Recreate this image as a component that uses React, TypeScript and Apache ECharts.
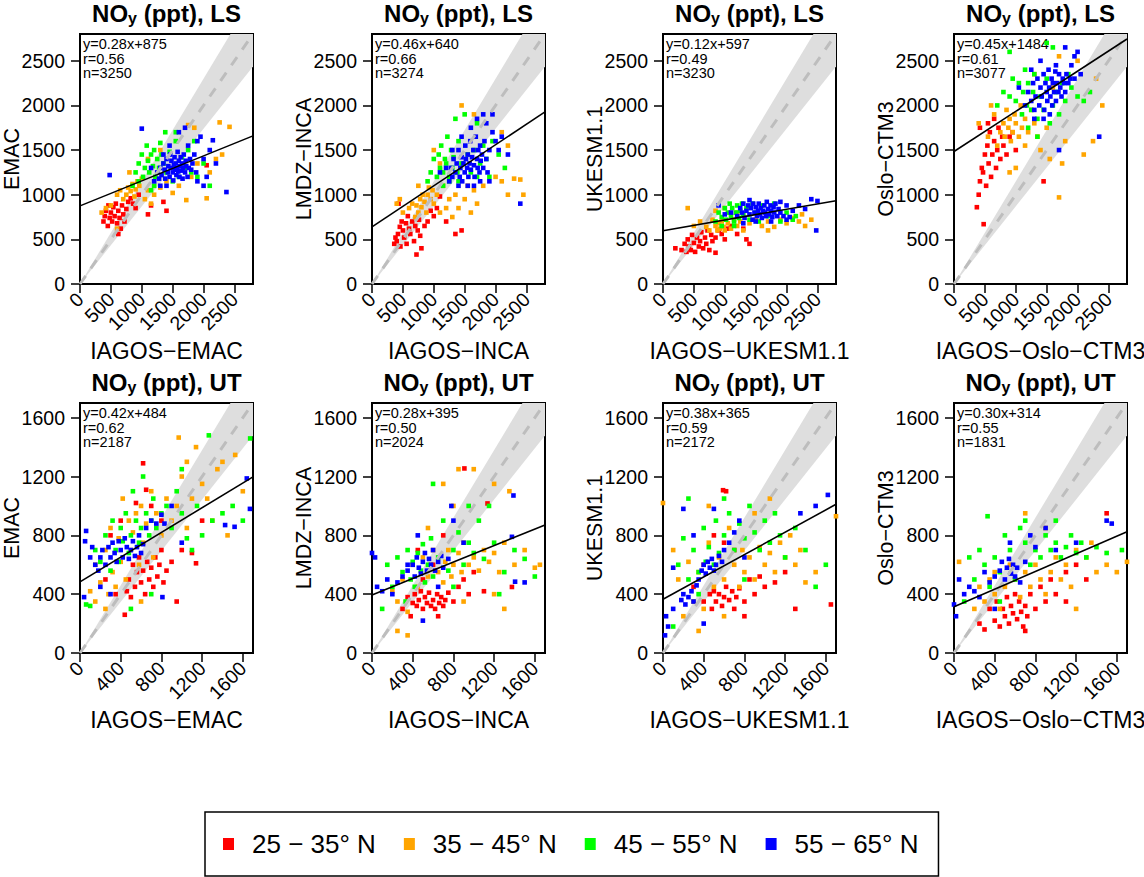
import React, { useEffect, useRef } from 'react';
import * as echarts from 'echarts';

// ---------- labels & statistics ----------
const LAT_BANDS = ['25 − 35° N', '35 − 45° N', '45 − 55° N', '55 − 65° N'];
const BAND_COLORS = ['#ff0000', '#ffa500', '#00ff00', '#0000ff'];
const MODEL_NAMES = ['EMAC', 'LMDZ−INCA', 'UKESM1.1', 'Oslo−CTM3'];
const X_NAMES = ['IAGOS−EMAC', 'IAGOS−INCA', 'IAGOS−UKESM1.1', 'IAGOS−Oslo−CTM3'];

const LS_SLOPE = [0.28, 0.46, 0.12, 0.45];
const LS_INTERCEPT = [875, 640, 597, 1484];
const LS_R = [0.56, 0.66, 0.49, 0.61];
const LS_N = [3250, 3274, 3230, 3077];
const UT_SLOPE = [0.42, 0.28, 0.38, 0.30];
const UT_INTERCEPT = [484, 395, 365, 314];
const UT_R = [0.62, 0.50, 0.59, 0.55];
const UT_N = [2187, 2024, 2172, 1831];

const LS_TICKS = [0, 500, 1000, 1500, 2000, 2500];
const UT_TICKS = [0, 400, 800, 1200, 1600];
const LS_MAX = 2800;
const UT_MAX = 1700;
const ONE_TO_ONE_FACTOR = 1.15;

// ---------- LS panel 1: EMAC ----------
const ls1Red = [[380,700],[400,760],[420,820],[450,650],[460,880],[480,740],[500,800],[520,700],[540,860],[560,760],[580,900],[600,680],[620,820],[640,740],[660,620],[680,880],[700,780],[720,700],[750,840],[780,920],[820,960],[860,900],[900,850],[950,1000],[1100,780],[1350,920],[1400,820],[2050,1330],[1150,880],[620,560]];
const ls1Orange = [[350,800],[420,850],[500,880],[600,1000],[650,1050],[700,950],[750,1000],[780,1080],[820,1040],[850,1120],[880,980],[900,1060],[930,1150],[960,1100],[1000,1180],[1050,950],[1100,1050],[1150,900],[1200,1000],[1300,1080],[1400,1150],[1500,1020],[1600,1100],[1720,940],[1800,1200],[1900,1350],[2050,960],[2100,1250],[2200,1400],[2260,1810],[2420,1760],[1750,1780],[1850,1750],[1300,1500],[1100,1400],[800,1250],[2300,1450],[600,620]];
const ls1Green = [[850,1100],[900,1250],[950,1350],[1000,1450],[1020,1200],[1050,1300],[1080,1550],[1100,1380],[1120,1250],[1150,1450],[1180,1320],[1200,1500],[1220,1200],[1250,1400],[1280,1300],[1300,1580],[1320,1450],[1350,1350],[1380,1700],[1400,1250],[1450,1480],[1500,1150],[1550,1600],[1600,1200],[1650,1420],[1700,1300],[1750,1500],[1800,1250],[1850,1600],[1900,1200],[2000,1350],[2100,1100],[1200,1100],[1150,1050],[950,1150],[1550,1700]];
const ls1Blue = [[1200,1150],[1250,1250],[1280,1180],[1300,1300],[1320,1220],[1350,1350],[1370,1280],[1380,1180],[1400,1400],[1420,1250],[1430,1320],[1450,1200],[1460,1450],[1470,1300],[1480,1380],[1500,1250],[1510,1160],[1520,1330],[1530,1420],[1540,1280],[1550,1350],[1560,1220],[1570,1300],[1580,1480],[1590,1260],[1600,1380],[1610,1200],[1620,1320],[1630,1420],[1640,1270],[1650,1350],[1660,1180],[1670,1300],[1680,1450],[1700,1250],[1710,1380],[1720,1320],[1740,1200],[1750,1550],[1760,1300],[1780,1400],[1800,1280],[1820,1350],[1850,1450],[1880,1250],[1900,1600],[1950,1650],[2000,1400],[2050,1200],[2100,1500],[2150,1610],[2200,1350],[2370,1030],[1000,1740],[480,1220],[1300,1100],[1400,1100],[1600,1700],[1700,1750],[1450,1550],[1150,1300],[1350,1450],[1900,1150],[2000,1100]];

// ---------- LS panel 2: LMDZ-INCA ----------
const ls2Red = [[360,450],[380,520],[400,480],[420,560],[450,640],[460,420],[480,700],[500,600],[520,520],[550,680],[560,450],[580,760],[600,620],[620,560],[650,700],[680,480],[700,650],[720,330],[740,600],[760,720],[780,540],[800,400],[850,650],[900,700],[950,820],[1000,760],[1050,850],[1200,700],[1350,560],[1450,600],[1100,980],[430,900]];
const ls2Orange = [[400,900],[450,950],[500,800],[600,850],[650,900],[700,750],[720,880],[750,800],[780,950],[800,860],[820,1000],[850,920],[880,800],[900,1000],[920,1080],[950,950],[980,1050],[1000,900],[1050,1000],[1100,800],[1150,1100],[1200,850],[1250,950],[1300,750],[1350,1000],[1400,850],[1500,950],[1550,1100],[1600,800],[1650,1050],[1700,900],[1800,1100],[2000,1200],[2100,1150],[2200,1000],[2300,1180],[2400,1170],[2450,1000],[1100,1350],[1000,1500],[1450,2000],[1650,1900],[2100,1700],[2200,1550],[750,1100]];
const ls2Green = [[900,1150],[950,1250],[1000,1400],[1050,1200],[1080,1450],[1100,1300],[1120,1550],[1150,1250],[1180,1400],[1200,1350],[1220,1650],[1250,1200],[1280,1500],[1300,1300],[1320,1420],[1350,1850],[1380,1250],[1400,1600],[1450,1350],[1500,1900],[1550,1450],[1600,1250],[1650,1500],[1700,1800],[1750,1350],[1800,1550],[1850,1400],[1900,1200],[1950,1600],[2050,1450],[2150,1300],[1250,1150],[1150,1100],[1400,1150],[1700,1200]];
const ls2Blue = [[1250,1150],[1280,1300],[1300,1200],[1320,1400],[1350,1250],[1370,1350],[1400,1500],[1420,1200],[1430,1300],[1450,1420],[1460,1150],[1480,1350],[1500,1250],[1510,1550],[1520,1400],[1540,1300],[1550,1450],[1560,1200],[1580,1350],[1590,1600],[1600,1280],[1620,1420],[1640,1500],[1650,1330],[1660,1200],[1680,1650],[1700,1400],[1710,1300],[1720,1500],[1740,1250],[1750,1550],[1760,1380],[1780,1450],[1800,1300],[1820,1600],[1850,1400],[1870,1250],[1900,1500],[1950,1700],[2000,1600],[2050,1500],[2100,1650],[1800,1900],[1950,1900],[1850,1800],[1600,1750],[1700,1850],[2400,900],[1400,1100],[1550,1100],[1300,1500],[1450,1650],[1650,1100],[1200,1300],[1900,1150],[1750,1150],[2200,1450],[1100,1250]];

// ---------- LS panel 3: UKESM1.1 ----------
const ls3Red = [[200,400],[300,380],[350,450],[380,360],[400,500],[420,420],[450,380],[470,550],[500,460],[520,360],[550,520],[580,420],[600,480],[620,580],[650,400],[680,520],[700,450],[720,600],[750,380],[780,550],[800,480],[850,520],[900,600],[950,560],[1000,500],[1050,620],[1100,650],[1200,560],[1350,500],[1400,450],[850,350],[1300,620]];
const ls3Orange = [[400,850],[600,700],[700,640],[750,600],[800,720],[850,650],[880,600],[900,680],[920,620],[950,700],[980,640],[1000,600],[1050,680],[1100,620],[1150,720],[1200,650],[1250,700],[1300,600],[1400,680],[1500,720],[1600,650],[1700,700],[1800,640],[1900,720],[2000,680],[2100,740],[2200,700],[2300,650],[2400,720],[1000,850],[850,820],[1200,800],[500,650],[2250,780],[1700,600]];
const ls3Green = [[850,700],[900,800],[950,750],[1000,850],[1020,720],[1050,800],[1080,900],[1100,760],[1120,850],[1150,700],[1180,800],[1200,880],[1230,740],[1250,820],[1280,900],[1300,780],[1350,850],[1400,720],[1450,900],[1500,800],[1550,700],[1600,880],[1700,760],[1800,900],[1900,700],[2000,800],[2100,720],[2150,760],[950,650],[1150,650]];
const ls3Blue = [[1200,760],[1250,850],[1280,800],[1300,900],[1320,740],[1350,820],[1380,880],[1400,780],[1420,850],[1450,720],[1460,900],[1480,800],[1500,860],[1520,760],[1540,820],[1550,900],[1570,780],[1580,850],[1600,740],[1620,820],[1640,880],[1650,800],[1670,760],[1680,920],[1700,840],[1720,780],[1740,880],[1750,820],[1770,750],[1790,860],[1800,800],[1820,900],[1850,760],[1870,840],[1900,800],[1950,760],[2000,880],[2050,750],[2100,820],[2200,880],[2300,840],[2400,950],[2500,930],[2480,600],[1300,680],[1500,700],[1750,700],[1900,920],[1400,940],[2000,720],[1100,800],[1000,780],[900,880]];

// ---------- LS panel 4: Oslo-CTM3 ----------
const ls4Red = [[370,860],[400,1000],[420,1150],[450,1300],[470,1250],[480,670],[500,1450],[520,1100],[540,1550],[560,1350],[580,1700],[600,1200],[620,1450],[650,1600],[680,1300],[700,1500],[720,1750],[750,1400],[780,1650],[800,1550],[850,1450],[900,1650],[950,1700],[1000,1500],[1450,1150],[550,1800],[650,1850],[420,1750]];
const ls4Orange = [[400,1800],[550,1650],[650,1900],[700,1550],[750,1700],[800,1800],[820,1650],[850,1950],[880,1750],[900,1850],[920,1600],[950,1700],[980,1900],[1000,1800],[1050,1650],[1080,2000],[1100,1750],[1150,1850],[1200,1700],[1250,1950],[1300,1800],[1350,1650],[1400,1500],[1500,1750],[1550,1400],[1700,970],[1750,1350],[1800,1600],[2100,1450],[2250,1600],[2400,2000],[2300,2300],[2000,2500],[1700,2550],[1300,2350],[1000,1300],[900,1250],[1150,1550],[600,2000],[1600,2200]];
const ls4Green = [[700,2000],[800,2150],[900,2100],[950,2300],[1000,2050],[1050,2250],[1100,1900],[1120,2150],[1150,2400],[1180,2000],[1200,2250],[1250,1950],[1280,2150],[1300,2350],[1350,1850],[1400,2100],[1450,1950],[1500,2300],[1550,1800],[1600,2000],[1650,2150],[1700,1900],[1750,2250],[1800,2050],[1850,2350],[1900,2200],[2000,2100],[2100,2050],[2200,2150],[1500,2700],[1600,2650],[1200,1750],[1350,1650],[900,2600]];
const ls4Blue = [[1150,2000],[1200,2150],[1250,2050],[1280,2250],[1300,1950],[1320,2100],[1350,2300],[1380,2000],[1400,2200],[1420,2100],[1450,2350],[1460,1950],[1480,2250],[1500,2150],[1510,2050],[1530,2400],[1540,2200],[1560,2100],[1580,2300],[1590,2000],[1600,2250],[1620,2150],[1640,2380],[1650,2050],[1670,2250],[1690,2150],[1700,2350],[1720,2200],[1740,2100],[1760,2300],[1780,2250],[1800,2150],[1820,2350],[1850,2250],[1880,2300],[1900,2450],[1950,2550],[2000,2600],[2050,2350],[1800,2650],[1400,2500],[1300,1850],[1450,1850],[2350,1650],[1700,1500],[1050,2200],[1250,2400],[1550,1900],[1650,2450],[1950,2300]];

// ---------- UT panel 1: EMAC ----------
const ut1Red = [[440,260],[460,420],[480,500],[500,380],[520,600],[540,450],[560,550],[580,650],[600,480],[620,560],[640,400],[660,620],[680,500],[700,580],[720,450],[740,650],[760,520],[780,600],[800,700],[820,480],[850,560],[900,620],[950,350],[1000,700],[1100,680],[1140,610],[620,1290],[650,1110],[550,1020],[400,900],[300,800],[250,500],[350,400],[700,1000],[800,900],[1200,900]];
const ut1Orange = [[100,420],[150,600],[200,480],[250,700],[280,400],[300,850],[320,550],[350,450],[380,780],[400,620],[420,1050],[450,500],[480,900],[500,700],[520,820],[550,950],[580,600],[600,1000],[620,750],[650,880],[700,1100],[720,650],[750,950],[800,800],[850,1050],[900,900],[950,1000],[970,1465],[1000,1200],[1050,850],[1100,1050],[1140,1400],[1200,1150],[1250,1050],[1300,900],[1350,1250],[1400,1300],[1450,800],[1525,1347],[1600,1100],[250,300],[150,350],[600,350],[1050,1300]];
const ut1Green = [[60,330],[100,320],[150,700],[200,620],[250,800],[300,560],[320,900],[350,700],[380,620],[400,850],[420,760],[450,950],[480,680],[500,800],[520,1100],[550,900],[580,750],[600,850],[620,1200],[650,950],[680,800],[700,900],[720,1050],[750,850],[800,950],[850,1000],[900,850],[950,1100],[1000,950],[1050,780],[1100,700],[1150,1000],[1200,800],[1266,1480],[1300,900],[1400,950],[1500,1000],[1672,1459],[700,400],[500,300],[1600,900],[1000,1250]];
const ut1Blue = [[40,380],[50,760],[60,830],[100,650],[120,720],[150,600],[180,560],[200,650],[220,700],[250,600],[280,720],[300,650],[320,750],[340,680],[360,620],[380,760],[400,700],[420,650],[440,780],[460,720],[480,640],[500,700],[520,760],[540,660],[560,720],[580,800],[600,680],[620,740],[650,850],[700,900],[750,880],[800,940],[830,880],[810,380],[1426,870],[1519,858],[1670,980],[1639,1187],[200,450],[300,400],[1000,750],[900,1000]];

// ---------- UT panel 2: LMDZ-INCA ----------
const ut2Red = [[300,300],[350,380],[400,340],[420,400],[440,320],[460,360],[480,420],[500,300],[520,380],[540,340],[560,410],[580,320],[600,360],[620,300],[640,400],[660,340],[680,380],[700,320],[720,360],[750,410],[800,350],[850,450],[900,500],[950,400],[1000,550],[1100,420],[500,500],[600,600],[450,700],[700,800],[908,1255],[1135,1017],[1375,449],[380,250],[650,250]];
const ut2Orange = [[200,420],[250,350],[300,500],[350,280],[400,600],[450,450],[500,650],[550,520],[600,700],[650,550],[700,480],[720,620],[750,700],[780,520],[800,600],[850,680],[880,550],[900,750],[950,600],[1000,650],[1050,560],[1100,700],[1150,620],[1200,680],[1250,550],[1300,750],[1400,600],[1500,700],[1600,580],[1650,600],[800,1000],[700,1150],[850,1250],[1000,1250],[1200,1150],[1350,1100],[550,850],[900,350],[1200,400],[1300,300],[250,150],[350,120]];
const ut2Green = [[100,300],[150,600],[200,450],[250,650],[300,550],[330,350],[350,700],[380,500],[400,620],[420,450],[450,680],[480,560],[500,740],[520,480],[550,600],[580,780],[600,520],[650,650],[700,900],[750,560],[800,700],[850,820],[900,600],[950,750],[1000,680],[1050,900],[1100,640],[1200,750],[1300,550],[1400,700],[1500,640],[1600,520],[950,1000],[1150,1000],[600,1150],[800,450],[1250,400]];
const ut2Blue = [[0,680],[30,650],[50,450],[100,420],[150,500],[200,400],[250,480],[300,520],[350,560],[400,600],[420,520],[440,650],[460,580],[480,540],[500,620],[520,680],[540,560],[560,640],[580,600],[600,700],[620,560],[650,620],[680,660],[700,580],[750,640],[780,1000],[800,900],[900,750],[1375,790],[1390,1071],[1406,485],[1500,480],[450,800],[500,220],[350,600],[650,450]];

// ---------- UT panel 3: UKESM1.1 ----------
const ut3Red = [[300,450],[400,350],[460,400],[480,300],[500,420],[520,350],[550,400],[580,320],[600,380],[620,450],[650,360],[680,420],[700,300],[720,380],[750,440],[800,350],[850,500],[900,400],[950,520],[1000,450],[1100,480],[1200,550],[1300,300],[590,1107],[620,1100],[500,800],[600,750],[700,700],[400,600],[800,250],[1650,330]];
const ut3Orange = [[0,1020],[100,700],[150,500],[200,250],[250,620],[300,350],[350,550],[400,300],[450,750],[500,450],[550,650],[600,500],[650,850],[700,600],[750,450],[780,700],[800,550],[850,650],[900,500],[950,720],[1000,600],[1050,680],[1100,550],[1150,750],[1200,650],[1250,800],[1300,600],[1350,700],[1400,480],[1500,550],[1700,930],[450,1000],[600,250],[900,950],[1050,1050],[350,150]];
const ut3Green = [[100,180],[150,600],[200,780],[250,500],[300,700],[350,550],[400,850],[420,620],[450,720],[500,600],[520,900],[550,680],[600,800],[650,950],[700,700],[750,880],[800,780],[850,1000],[900,820],[950,700],[1000,900],[1050,750],[1100,950],[1150,800],[1200,650],[1300,850],[1400,700],[1500,450],[1600,600],[250,1050],[600,1050],[800,500],[350,400]];
const ut3Blue = [[20,120],[30,250],[50,180],[100,300],[180,360],[200,400],[220,330],[250,380],[280,420],[300,350],[330,460],[350,500],[380,560],[400,600],[420,540],[440,620],[460,580],[480,640],[500,560],[520,600],[550,660],[580,620],[600,700],[650,750],[700,820],[750,900],[200,980],[1620,1075],[1500,1000],[1350,950],[100,580],[300,800],[800,650],[500,980],[400,200]];

// ---------- UT panel 4: Oslo-CTM3 ----------
const ut4Red = [[250,200],[300,160],[350,300],[400,220],[420,350],[450,180],[480,300],[500,250],[520,380],[540,200],[560,320],[580,270],[600,400],[620,230],[640,350],[660,280],[680,180],[700,320],[720,250],[750,400],[800,300],[850,450],[900,350],[950,500],[1000,400],[1100,550],[1200,600],[1300,500],[1500,950],[1100,350],[700,150]];
const ut4Orange = [[200,300],[250,450],[300,350],[350,500],[400,400],[450,300],[500,450],[550,600],[600,500],[650,380],[700,550],[750,450],[800,600],[850,500],[900,400],[950,550],[1000,650],[1050,500],[1100,600],[1150,450],[1200,700],[1300,650],[1400,550],[1500,600],[1600,550],[1700,620],[700,950],[900,850],[1200,300],[400,550],[50,620],[1350,750]];
const ut4Green = [[100,350],[150,650],[200,500],[250,700],[300,600],[330,930],[350,450],[400,650],[450,550],[500,800],[550,700],[600,500],[650,850],[700,750],[750,600],[800,700],[850,650],[900,800],[950,700],[1000,750],[1050,650],[1100,720],[1150,800],[1200,680],[1250,750],[1300,650],[1400,720],[1500,680],[1650,700],[700,900],[1000,900],[450,350]];
const ut4Blue = [[0,330],[20,250],[50,500],[100,400],[150,450],[200,420],[250,380],[300,550],[350,480],[400,520],[450,560],[470,620],[500,500],[520,580],[540,640],[560,540],[580,600],[600,520],[620,580],[650,480],[700,620],[750,800],[800,720],[900,850],[1000,700],[1200,750],[1500,900],[1550,880],[400,300],[550,750]];

const LS_POINTS = [
  [ls1Red, ls1Orange, ls1Green, ls1Blue],
  [ls2Red, ls2Orange, ls2Green, ls2Blue],
  [ls3Red, ls3Orange, ls3Green, ls3Blue],
  [ls4Red, ls4Orange, ls4Green, ls4Blue],
];
const UT_POINTS = [
  [ut1Red, ut1Orange, ut1Green, ut1Blue],
  [ut2Red, ut2Orange, ut2Green, ut2Blue],
  [ut3Red, ut3Orange, ut3Green, ut3Blue],
  [ut4Red, ut4Orange, ut4Green, ut4Blue],
];

const FONT = 'Liberation Sans, Arial, Helvetica, sans-serif';

function buildOption() {
  const colLeft = [80, 372, 663, 954];
  const rowTop = [34, 403];
  const W = 173;
  const H = 250;

  const grids: any[] = [];
  const xAxes: any[] = [];
  const yAxes: any[] = [];
  const series: any[] = [];
  const graphics: any[] = [];
  const plain = (v: number) => String(v);

  for (let p = 0; p < 8; p++) {
    const r = p < 4 ? 0 : 1;
    const c = p % 4;
    const isLS = r === 0;
    const max = isLS ? LS_MAX : UT_MAX;
    const ticks = isLS ? LS_TICKS : UT_TICKS;
    const slope = isLS ? LS_SLOPE[c] : UT_SLOPE[c];
    const icpt = isLS ? LS_INTERCEPT[c] : UT_INTERCEPT[c];
    const rr = isLS ? LS_R[c] : UT_R[c];
    const nn = isLS ? LS_N[c] : UT_N[c];
    const pts = isLS ? LS_POINTS[c] : UT_POINTS[c];
    const left = colLeft[c];
    const top = rowTop[r];

    grids.push({ left, top, width: W, height: H, show: true, borderColor: '#000', borderWidth: 2, backgroundColor: 'transparent', containLabel: false });

    const axisCommon = {
      gridIndex: p,
      type: 'value',
      min: 0,
      max,
      axisLine: { show: false },
      splitLine: { show: false },
      axisTick: { show: true, length: 9, lineStyle: { color: '#000', width: 1.5 }, customValues: ticks },
    };
    xAxes.push({
      ...axisCommon,
      axisLabel: { customValues: ticks, formatter: plain, rotate: 45, margin: 12, fontSize: 19.5, color: '#000', fontFamily: FONT },
    });
    yAxes.push({
      ...axisCommon,
      axisLabel: { customValues: ticks, formatter: plain, margin: 15, fontSize: 19.5, color: '#000', fontFamily: FONT },
    });

    const k = ONE_TO_ONE_FACTOR;
    const bandVerts = [[0, 0], [max, max / k], [max, max], [max / k, max]];
    series.push({
      type: 'custom',
      xAxisIndex: p,
      yAxisIndex: p,
      silent: true,
      z: 1,
      data: [[0, 0]],
      renderItem: (_params: any, api: any) => ({
        type: 'polygon',
        shape: { points: bandVerts.map((v) => api.coord(v)) },
        style: { fill: '#dedede' },
      }),
    });

    pts.forEach((data, b) => {
      series.push({
        type: 'scatter',
        name: LAT_BANDS[b],
        xAxisIndex: p,
        yAxisIndex: p,
        data,
        symbol: 'rect',
        symbolSize: 4.6,
        itemStyle: { color: BAND_COLORS[b], opacity: 1 },
        silent: true,
        z: 2,
      });
    });

    series.push({
      type: 'line',
      xAxisIndex: p,
      yAxisIndex: p,
      data: [[0, 0], [max, max]],
      symbol: 'none',
      silent: true,
      z: 3,
      lineStyle: { color: '#bdbdbd', width: 3, type: [10, 9] },
    });
    series.push({
      type: 'line',
      xAxisIndex: p,
      yAxisIndex: p,
      data: [[0, icpt], [max, slope * max + icpt]],
      symbol: 'none',
      silent: true,
      z: 4,
      lineStyle: { color: '#000', width: 1.6 },
    });

    // title
    graphics.push({
      type: 'text',
      x: left + W / 2,
      y: top - 21,
      silent: true,
      style: {
        text: `NO{s|y} (ppt), ${isLS ? 'LS' : 'UT'}`,
        align: 'center',
        verticalAlign: 'middle',
        fill: '#000',
        fontFamily: FONT,
        fontSize: 24,
        fontWeight: 'bold',
        rich: {
          s: { fontSize: 16, fontWeight: 'bold', fontFamily: FONT, fill: '#000', padding: [11, 0, 0, 0] },
        },
      },
    });
    // statistics annotation (one text per line)
    const statLines = [`y=${slope.toFixed(2)}x+${icpt}`, `r=${rr.toFixed(2)}`, `n=${nn}`];
    statLines.forEach((line, i) => {
      graphics.push({
        type: 'text',
        x: left + 3,
        y: top + 10 + i * 14.5,
        silent: true,
        style: {
          text: line,
          align: 'left',
          verticalAlign: 'middle',
          fill: '#000',
          fontFamily: FONT,
          fontSize: 14.5,
        },
      });
    });
    // x axis name
    graphics.push({
      type: 'text',
      x: left + W / 2,
      y: top + H + 67,
      silent: true,
      style: { text: X_NAMES[c], align: 'center', verticalAlign: 'middle', fill: '#000', fontFamily: FONT, fontSize: 23 },
    });
    // y axis name
    graphics.push({
      type: 'text',
      x: left - 68,
      y: top + H / 2,
      rotation: Math.PI / 2,
      silent: true,
      style: { text: MODEL_NAMES[c], align: 'center', verticalAlign: 'middle', fill: '#000', fontFamily: FONT, fontSize: 21.5 },
    });
  }

  return {
    animation: false,
    backgroundColor: '#ffffff',
    grid: grids,
    xAxis: xAxes,
    yAxis: yAxes,
    series,
    graphic: graphics,
    legend: {
      left: 205,
      top: 812,
      orient: 'horizontal',
      selectedMode: false,
      itemWidth: 11,
      itemHeight: 12,
      itemGap: 28,
      padding: [19, 20, 19, 18],
      borderColor: '#000',
      borderWidth: 1.5,
      data: LAT_BANDS.map((name) => ({ name, icon: 'rect' })),
      textStyle: { fontSize: 26, color: '#000', fontFamily: FONT, padding: [0, 0, 0, 13] },
    },
  };
}

export default function App() {
  const ref = useRef<HTMLDivElement>(null);
  useEffect(() => {
    if (!ref.current) return;
    const chart = echarts.init(ref.current, undefined, { renderer: 'svg' });
    chart.setOption(buildOption() as any);
    return () => chart.dispose();
  }, []);
  return (
    <div
      ref={ref}
      style={{ position: 'absolute', left: 0, top: 0, width: 1144, height: 877, background: '#fff' }}
    />
  );
}
